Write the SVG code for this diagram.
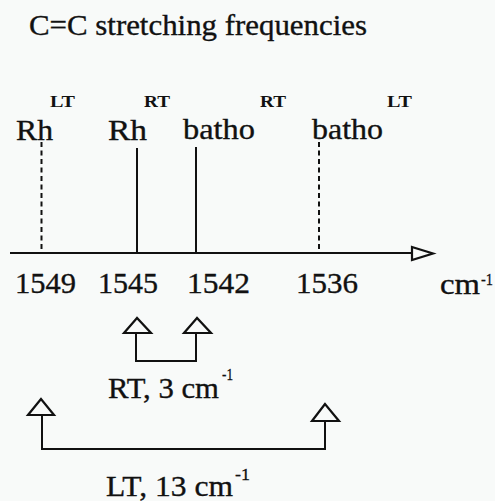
<svg xmlns="http://www.w3.org/2000/svg" width="495" height="501" viewBox="0 0 495 501">
<style>
  text { font-family: "Liberation Serif", "Times New Roman", "DejaVu Serif", serif; fill: #111; }
  .big { font-size: 30px; stroke: #111; stroke-width: 0.35; }
  .sup { font-size: 17px; font-weight: bold; }
  .sm { font-size: 17px; stroke: #111; stroke-width: 0.3; }
  .ln { stroke: #111; stroke-width: 2; fill: none; }
  .dash { stroke: #111; stroke-width: 2; stroke-dasharray: 5 3.5; fill: none; }
  .tri { stroke: #111; stroke-width: 2.2; fill: #f8faf9; stroke-linejoin: miter; }
</style>
<rect width="495" height="501" fill="#f8faf9"/>
<g id="title"><text class="big" x="29" y="35" textLength="338" lengthAdjust="spacingAndGlyphs">C=C stretching frequencies</text></g>

<g id="rh-lt"><text class="big" x="16" y="140" textLength="37" lengthAdjust="spacingAndGlyphs">Rh</text><text class="sup" x="50" y="107" textLength="25" lengthAdjust="spacingAndGlyphs">LT</text></g>
<g id="rh-rt"><text class="big" x="108" y="140" textLength="39" lengthAdjust="spacingAndGlyphs">Rh</text><text class="sup" x="144" y="107" textLength="26" lengthAdjust="spacingAndGlyphs">RT</text></g>
<g id="batho-rt"><text class="big" x="183" y="139" textLength="72" lengthAdjust="spacingAndGlyphs">batho</text><text class="sup" x="260" y="107" textLength="26" lengthAdjust="spacingAndGlyphs">RT</text></g>
<g id="batho-lt"><text class="big" x="312" y="139" textLength="71" lengthAdjust="spacingAndGlyphs">batho</text><text class="sup" x="387" y="107" textLength="25" lengthAdjust="spacingAndGlyphs">LT</text></g>

<g id="axis">
  <line class="ln" x1="10" y1="253" x2="412" y2="253" stroke-width="2.5"/>
  <polygon class="tri" points="412,247 433,253.5 412,260"/>
  <text class="big" x="15" y="293" textLength="61" lengthAdjust="spacingAndGlyphs">1549</text>
  <text class="big" x="98" y="293" textLength="60" lengthAdjust="spacingAndGlyphs">1545</text>
  <text class="big" x="187" y="293" textLength="63" lengthAdjust="spacingAndGlyphs">1542</text>
  <text class="big" x="296" y="293" textLength="62" lengthAdjust="spacingAndGlyphs">1536</text>
  <text class="big" x="440" y="294" textLength="40" lengthAdjust="spacingAndGlyphs">cm</text>
  <text class="sm" x="481" y="285" textLength="12" lengthAdjust="spacingAndGlyphs">-1</text>
</g>

<g id="connectors">
  <line class="dash" x1="41.5" y1="142" x2="41.5" y2="253"/>
  <line class="ln" x1="137" y1="148" x2="137" y2="253"/>
  <line class="ln" x1="196" y1="147" x2="196" y2="253" stroke-width="2.4"/>
  <line class="dash" x1="319" y1="142" x2="319" y2="253"/>

  <path class="ln" d="M136,333 V361 H196 V333"/>
  <polygon class="tri" points="137,318 124,333 151,333"/>
  <polygon class="tri" points="197,318 184,333 211,333"/>

  <path class="ln" d="M42,415 V449 H325 V421"/>
  <polygon class="tri" points="41,399 28,415 54,415"/>
  <polygon class="tri" points="325,404 312,421 339,421"/>
</g>

<g id="rt-label"><text class="big" x="108" y="398" textLength="111" lengthAdjust="spacingAndGlyphs">RT, 3 cm</text><text class="sm" x="222" y="380" textLength="11" lengthAdjust="spacingAndGlyphs">-1</text></g>
<g id="lt-label"><text class="big" x="106" y="496" textLength="127" lengthAdjust="spacingAndGlyphs">LT, 13 cm</text><text class="sm" x="235" y="480" textLength="15" lengthAdjust="spacingAndGlyphs">-1</text></g>
</svg>
